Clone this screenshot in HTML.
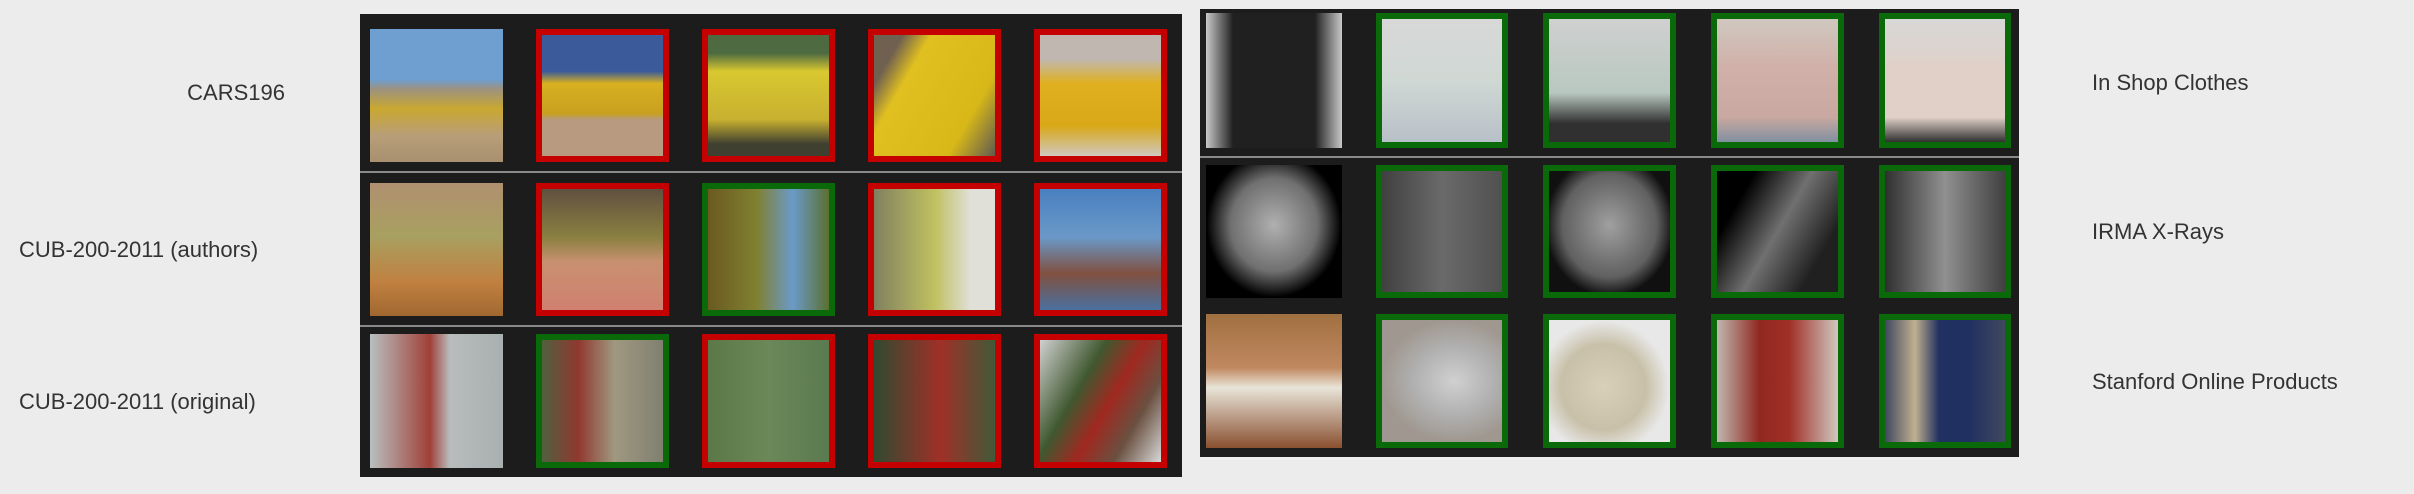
<!DOCTYPE html>
<html><head><meta charset="utf-8"><style>
body{margin:0;width:2414px;height:494px;background:#ececec;position:relative;overflow:hidden;font-family:"Liberation Sans",sans-serif}
.panel{position:absolute;background:#1c1c1c}
.div{position:absolute;height:2px;background:#8a8a8a}
.t{position:absolute;box-sizing:border-box}
.r{border:6px solid #c40000}
.g{border:6px solid #0a6a0a}
.lbl{position:absolute;font-size:22px;color:#333;white-space:nowrap}
</style></head><body>
<div class="panel" style="left:360px;top:14px;width:822px;height:463px"></div>
<div class="div" style="left:360px;top:171px;width:822px"></div>
<div class="div" style="left:360px;top:325px;width:822px"></div>
<div class="panel" style="left:1200px;top:9px;width:819px;height:448px"></div>
<div class="div" style="left:1200px;top:156px;width:819px"></div>

<div class="lbl" style="right:2129px;top:80px">CARS196</div>
<div class="lbl" style="left:19px;top:237px">CUB-200-2011 (authors)</div>
<div class="lbl" style="left:19px;top:389px">CUB-200-2011 (original)</div>
<div class="lbl" style="left:2092px;top:70px">In Shop Clothes</div>
<div class="lbl" style="left:2092px;top:219px">IRMA X-Rays</div>
<div class="lbl" style="left:2092px;top:369px">Stanford Online Products</div>

<!-- left tiles -->
<div class="t" style="left:370px;top:29px;width:133px;height:133px;background:linear-gradient(#6e9fd0 0 38%,#9c9280 45%,#c9a830 60%,#b89e78 80%,#a89070)"></div>
<div class="t r" style="left:536px;top:29px;width:133px;height:133px;background:linear-gradient(#3a5a9a 0 30%,#d8b020 40%,#c8a020 65%,#b89a80 70%)"></div>
<div class="t r" style="left:702px;top:29px;width:133px;height:133px;background:linear-gradient(#4d6a40 0 15%,#d8c830 30%,#c8b030 70%,#404030 90%)"></div>
<div class="t r" style="left:868px;top:29px;width:133px;height:133px;background:linear-gradient(120deg,#706050 0 15%,#e0c020 30%,#d8b818 75%,#605a50)"></div>
<div class="t r" style="left:1034px;top:29px;width:133px;height:133px;background:linear-gradient(#c0b8b0 0 20%,#e0b020 40%,#d8a818 75%,#d0c8c0)"></div>

<div class="t" style="left:370px;top:183px;width:133px;height:133px;background:linear-gradient(#b09070,#a8a060 40%,#c08040 75%,#a06830)"></div>
<div class="t r" style="left:536px;top:183px;width:133px;height:133px;background:linear-gradient(#605040,#8a8040 40%,#c89070 60%,#d08070)"></div>
<div class="t g" style="left:702px;top:183px;width:133px;height:133px;background:linear-gradient(90deg,#6a5a20,#808030 40%,#6a9ac8 70%,#5a7030)"></div>
<div class="t r" style="left:868px;top:183px;width:133px;height:133px;background:linear-gradient(90deg,#808060,#c0c060 50%,#e0e0d8 80%)"></div>
<div class="t r" style="left:1034px;top:183px;width:133px;height:133px;background:linear-gradient(#4a80c0,#6a98c8 40%,#805040 70%,#4a70a0)"></div>

<div class="t" style="left:370px;top:334px;width:133px;height:134px;background:linear-gradient(90deg,#b8c0c0,#a04038 45%,#b8bcbc 60%,#a8b0b0)"></div>
<div class="t g" style="left:536px;top:334px;width:133px;height:134px;background:linear-gradient(90deg,#506040,#903830 30%,#a09880 60%,#808070)"></div>
<div class="t r" style="left:702px;top:334px;width:133px;height:134px;background:linear-gradient(90deg,#5a7848,#6a8858 50%,#5a7a50)"></div>
<div class="t r" style="left:868px;top:334px;width:133px;height:134px;background:linear-gradient(90deg,#304a30,#a03028 55%,#405a38)"></div>
<div class="t r" style="left:1034px;top:334px;width:133px;height:134px;background:linear-gradient(120deg,#d0d0d0,#405830 35%,#a02820 55%,#6a5040 75%,#d8d8d8)"></div>

<!-- right tiles -->
<div class="t" style="left:1206px;top:13px;width:136px;height:135px;background:linear-gradient(90deg,#c8c8c8,#202020 20%,#202020 80%,#c8c8c8)"></div>
<div class="t g" style="left:1376px;top:13px;width:132px;height:135px;background:linear-gradient(#d8d8d8,#d0d8d4 50%,#b8c0c8)"></div>
<div class="t g" style="left:1543px;top:13px;width:133px;height:135px;background:linear-gradient(#d0d0d0,#b8c8c0 60%,#303030 85%)"></div>
<div class="t g" style="left:1711px;top:13px;width:133px;height:135px;background:linear-gradient(#d0c8c0,#d0b0a8 40%,#c8a8a0 80%,#8090a0)"></div>
<div class="t g" style="left:1879px;top:13px;width:132px;height:135px;background:linear-gradient(#d8d8d8,#e0d0c8 40%,#e0d0c8 80%,#303030)"></div>

<div class="t" style="left:1206px;top:165px;width:136px;height:133px;background:radial-gradient(ellipse at 50% 45%,#b0b0b0,#707070 45%,#000 70%)"></div>
<div class="t g" style="left:1376px;top:165px;width:132px;height:133px;background:linear-gradient(90deg,#404040,#6a6a6a 50%,#505050)"></div>
<div class="t g" style="left:1543px;top:165px;width:133px;height:133px;background:radial-gradient(ellipse at 50% 45%,#a0a0a0,#606060 55%,#101010 75%)"></div>
<div class="t g" style="left:1711px;top:165px;width:133px;height:133px;background:linear-gradient(120deg,#000 20%,#707070 50%,#202020 80%)"></div>
<div class="t g" style="left:1879px;top:165px;width:132px;height:133px;background:linear-gradient(90deg,#303030,#909090 50%,#404040)"></div>

<div class="t" style="left:1206px;top:314px;width:136px;height:134px;background:linear-gradient(#a07040,#c08860 40%,#e8e4d8 55%,#8a5030)"></div>
<div class="t g" style="left:1376px;top:314px;width:132px;height:134px;background:radial-gradient(ellipse at 60% 50%,#d0d0d0,#b0b0b0 40%,#a09890 70%)"></div>
<div class="t g" style="left:1543px;top:314px;width:133px;height:134px;background:radial-gradient(ellipse at 45% 55%,#d8d0b8,#c8c0a8 45%,#e8e8e8 70%)"></div>
<div class="t g" style="left:1711px;top:314px;width:133px;height:134px;background:linear-gradient(90deg,#c0b8b0,#902820 35%,#a03028 60%,#d0c8c0)"></div>
<div class="t g" style="left:1879px;top:314px;width:132px;height:134px;background:linear-gradient(90deg,#404860,#c0b090 25%,#203060 45%,#203060 70%,#404860)"></div>
</body></html>
